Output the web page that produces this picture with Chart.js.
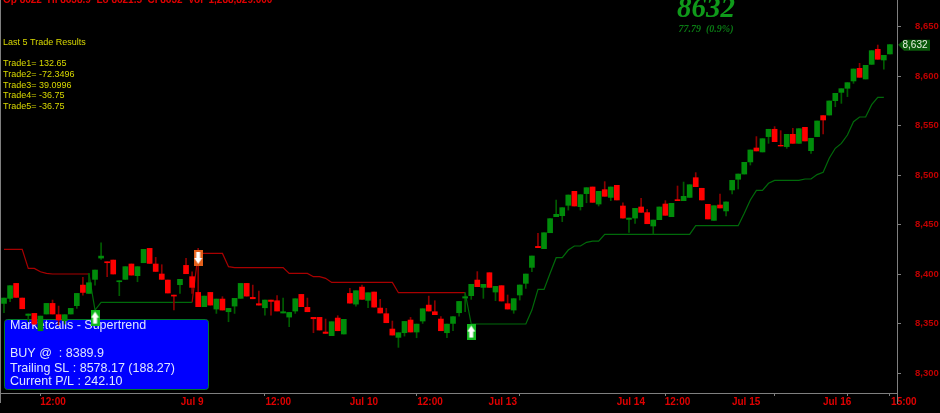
<!DOCTYPE html>
<html lang="en">
<head>
<meta charset="UTF-8">
<title>Marketcalls - Supertrend</title>
<style>
    html, body { margin: 0; padding: 0; background: #000; overflow: hidden; }
    canvas { display: block; }
</style>
</head>
<body>
<canvas id="chart" width="940" height="413"></canvas>

<script src="https://cdn.jsdelivr.net/npm/chart.js"></script>
<script>
    const opens = [
        8370.3,8375.4,8390.5,8375.7,8358.2,8360.2,8342.7,8359.6,8370.3,8358.9,
        8352.8,8359.6,8368.0,8388.8,8380.4,8394.6,8416.1,8412.4,8414.1,8392.2,
        8394.6,8410.1,8398.3,8411.4,8425.9,8410.1,8400.0,8393.9,8378.7,8389.2,
        8408.7,8397.3,8381.4,8367.0,8381.4,8364.6,8374.7,8361.9,8367.6,8375.4,
        8390.5,8376.4,8370.0,8365.9,8373.7,8373.0,8360.6,8356.5,8362.6,8379.4,
        8366.3,8356.2,8356.2,8341.4,8337.7,8355.5,8339.4,8380.4,8369.6,8386.8,
        8373.4,8381.8,8365.6,8359.9,8344.4,8336.0,8340.7,8353.5,8341.4,8352.5,
        8368.6,8361.9,8354.5,8340.7,8350.1,8360.9,8375.7,8378.1,8393.9,8386.5,
        8401.3,8381.8,8388.2,8370.0,8363.6,8378.8,8390.6,8406.7,8427.9,8425.6,
        8441.7,8457.9,8458.9,8469.4,8483.5,8468.0,8481.2,8487.9,8470.7,8485.2,
        8477.4,8489.6,8468.7,8455.2,8456.5,8467.7,8462.0,8448.5,8454.9,8470.7,
        8457.9,8475.1,8474.1,8477.4,8497.3,8486.6,8470.4,8454.2,8469.7,8463.7,
        8484.9,8495.7,8501.0,8513.2,8527.3,8523.3,8538.8,8546.2,8530.0,8528.7,
        8541.1,8532.0,8548.2,8524.6,8538.8,8560.0,8560.6,8575.1,8583.5,8587.6,
        8595.0,8607.8,8597.0,8611.8,8627.0,8616.2,8622.3
    ];
    const closes = [
        8375.7,8388.2,8376.4,8364.9,8359.6,8349.4,8357.5,8370.3,8359.6,8353.5,
        8358.9,8365.3,8380.4,8381.4,8391.2,8404.0,8418.1,8411.4,8400.0,8393.2,
        8407.4,8398.9,8407.4,8424.9,8410.7,8402.6,8394.6,8380.8,8377.7,8394.6,
        8400.3,8386.5,8367.0,8377.7,8368.6,8374.7,8363.6,8365.3,8375.4,8390.5,
        8377.7,8375.0,8368.6,8373.7,8372.3,8362.6,8361.9,8361.2,8375.0,8367.0,
        8361.9,8354.8,8343.4,8340.0,8351.8,8342.7,8354.2,8370.6,8383.1,8374.4,
        8381.1,8366.6,8360.6,8350.8,8338.3,8340.7,8352.1,8341.4,8349.4,8364.9,
        8362.6,8358.9,8342.7,8349.4,8356.9,8372.3,8377.1,8389.6,8387.2,8389.6,
        8386.5,8387.5,8372.7,8364.6,8375.1,8388.9,8400.0,8418.2,8426.6,8441.7,
        8455.9,8460.3,8467.0,8479.8,8468.7,8480.1,8487.2,8472.4,8483.5,8478.5,
        8487.9,8474.8,8456.5,8456.5,8466.3,8462.3,8450.8,8454.5,8467.7,8459.3,
        8471.4,8474.1,8478.5,8490.2,8488.2,8474.8,8455.6,8469.0,8466.7,8472.8,
        8494.6,8501.0,8512.8,8525.3,8524.3,8536.7,8546.2,8533.7,8529.3,8541.1,
        8532.0,8546.8,8534.4,8537.1,8554.6,8555.6,8574.8,8582.5,8587.2,8593.3,
        8607.1,8598.7,8610.8,8625.6,8616.9,8620.9,8631.7
    ];
    const highs = [
        8375.7,8388.2,8390.5,8375.7,8359.6,8360.2,8357.5,8370.3,8373.7,8367.6,
        8358.9,8365.3,8380.4,8396.6,8400.6,8404.0,8431.6,8412.4,8414.1,8393.2,
        8407.4,8410.1,8407.4,8424.9,8425.9,8416.8,8409.4,8393.9,8378.7,8394.6,
        8415.8,8402.3,8425.9,8377.7,8381.4,8374.7,8377.1,8365.3,8375.4,8390.5,
        8390.5,8388.8,8382.8,8373.7,8373.7,8378.1,8375.7,8361.2,8375.0,8379.4,
        8375.7,8356.2,8356.2,8354.5,8351.8,8357.9,8354.2,8385.5,8383.1,8388.8,
        8381.1,8381.8,8374.4,8365.3,8352.5,8340.7,8352.1,8356.2,8349.4,8364.9,
        8377.7,8373.0,8356.9,8349.4,8356.9,8372.3,8381.1,8389.6,8402.4,8389.6,
        8401.3,8387.5,8388.2,8378.8,8375.1,8388.9,8400.0,8418.2,8441.1,8441.7,
        8455.9,8474.7,8467.0,8479.8,8483.5,8480.1,8487.2,8487.9,8483.5,8493.3,
        8487.9,8489.6,8472.0,8456.5,8466.3,8476.4,8465.3,8454.5,8467.7,8474.1,
        8471.4,8488.9,8492.9,8490.2,8502.4,8486.6,8470.4,8469.0,8480.8,8472.8,
        8494.6,8501.0,8512.8,8525.3,8538.8,8536.7,8546.2,8548.9,8544.8,8541.1,
        8547.2,8546.8,8548.2,8537.1,8554.6,8560.0,8574.8,8582.5,8587.2,8593.3,
        8607.1,8612.8,8610.8,8625.6,8631.3,8620.9,8631.7
    ];
    const lows = [
        8360.9,8372.0,8376.4,8364.9,8351.8,8349.4,8342.7,8359.6,8359.6,8348.4,
        8349.4,8359.6,8365.3,8378.7,8380.4,8388.8,8414.8,8397.3,8400.0,8378.1,
        8394.6,8398.9,8392.2,8411.4,8410.7,8402.6,8394.6,8380.8,8363.6,8380.4,
        8400.3,8380.4,8367.0,8367.0,8368.6,8360.2,8363.6,8351.8,8360.2,8375.4,
        8377.7,8375.0,8368.6,8358.5,8358.5,8362.6,8360.6,8346.8,8360.2,8367.0,
        8361.9,8340.7,8343.4,8340.0,8337.7,8342.7,8339.4,8370.6,8367.6,8374.4,
        8365.9,8366.6,8360.6,8350.8,8338.3,8325.9,8337.3,8341.4,8335.6,8350.1,
        8362.6,8358.9,8342.7,8335.6,8342.7,8357.5,8361.9,8374.4,8387.2,8375.4,
        8386.5,8373.1,8372.7,8364.6,8360.3,8373.7,8385.5,8402.4,8426.6,8425.6,
        8441.7,8457.9,8452.9,8464.6,8468.7,8464.6,8472.0,8472.4,8468.7,8478.5,
        8474.1,8474.8,8456.5,8442.1,8451.2,8462.3,8450.8,8440.4,8454.9,8459.3,
        8457.9,8474.1,8474.1,8477.4,8488.2,8474.8,8455.6,8454.2,8466.7,8458.6,
        8480.8,8485.9,8501.0,8510.1,8524.3,8523.3,8532.0,8533.7,8529.3,8527.0,
        8532.0,8532.0,8534.4,8521.9,8538.8,8541.4,8560.6,8569.0,8572.4,8579.2,
        8592.6,8598.7,8597.0,8611.8,8616.9,8606.8,8622.3
    ];

    // supertrend stop, sell side then buy side
    const redStop = [
        8424.9,8424.9,8424.9,8424.9,8405.7,8405.7,8402.3,8400.6,8400,8400,
        8400,8400,8400,8400,8400,null,null,null,null,null,
        null,null,null,null,null,null,null,null,null,null,
        null,8371.3,8420.8,8420.8,8420.8,8420.8,8420.8,8407.4,8406.4,8406.4,
        8406.4,8406.4,8406.4,8406.4,8406.4,8406.4,8406.4,8400.6,8400.6,8400.6,
        8400.6,8397.3,8397.3,8395.6,8391.5,8391.5,8391.5,8391.5,8391.5,8391.5,
        8391.5,8391.5,8391.5,8391.5,8391.5,8381.1,8381.1,8381.1,8381.1,8381.1,
        8381.1,8381.1,8381.1,8381.1,8381.1,8381.1,8381.1,null,null,null,
        null,null,null,null,null,null,null,null,null,null,
        null,null,null,null,null,null,null,null,null,null,
        null,null,null,null,null,null,null,null,null,null,
        null,null,null,null,null,null,null,null,null,null,
        null,null,null,null,null,null,null,null,null,null,
        null,null,null,null,null,null,null,null,null,null,
        null,null,null,null,null,null,null
    ];
    const greenStop = [
        null,null,null,null,null,null,null,null,null,null,
        null,null,null,null,8400,8363.6,8371.3,8371.3,8371.3,8371.3,
        8371.3,8371.3,8371.3,8371.3,8371.3,8371.3,8371.3,8371.3,8371.3,8371.3,
        8371.3,8371.3,null,null,null,null,null,null,null,null,
        null,null,null,null,null,null,null,null,null,null,
        null,null,null,null,null,null,null,null,null,null,
        null,null,null,null,null,null,null,null,null,null,
        null,null,null,null,null,null,8381.1,8349.5,8349.5,8349.5,
        8349.5,8349.5,8349.5,8349.5,8349.5,8349.5,8349.5,8363.6,8384.5,8384.5,
        8400.7,8416.5,8416.5,8424.2,8428.3,8428.3,8432,8433.3,8433.3,8440.1,
        8440.1,8440.1,8440.1,8440.1,8440.1,8440.1,8440.1,8440.1,8440.1,8440.1,
        8440.1,8440.1,8440.1,8440.1,8448.8,8448.8,8448.8,8448.8,8448.8,8448.8,
        8448.8,8448.8,8461.3,8474.8,8484.5,8484.5,8491.6,8494.6,8494.6,8494.6,
        8494.6,8494.6,8496,8496,8500.4,8502.7,8516.9,8527,8532,8540.4,
        8553.9,8558.6,8558.6,8571.1,8578.5,8578.5,null
    ];

    const buyIndex = [15, 77];
    const buyPrice = [8356, 8341.9];
    const sellIndex = [32];
    const sellPrice = [8416.2];

    const yTickValues = [8300, 8350, 8400, 8450, 8500, 8550, 8600, 8650];
    const xTickPositions = [6, 8.07, 31, 43, 45.2, 59.3, 68, 70.2, 82.2, 85, 103.3, 109, 111, 122.3, 127, 137.3, 139, 146, 148.3];
    const xTickLabels = ['', '12:00', 'Jul 9', '', '12:00', 'Jul 10', '', '12:00', 'Jul 13', '', 'Jul 14', '', '12:00', 'Jul 15', '', 'Jul 16', '', '', '15:00'];
    const xMarks = [6, 43, 68, 85, 109, 127, 139, 146];

    const headerText = 'Op 8622  Hi 8638.9  Lo 8621.5  Cl 8632  Vol  1,288,829.000';
    const tradeLines = ['Trade1= 132.65', 'Trade2= -72.3496', 'Trade3= 39.0996', 'Trade4= -36.75', 'Trade5= -36.75'];
    const lastPrice = '8,632';

    const GREEN = '#008c0a', GREEN_DARK = '#005c00', RED = '#ff0000', RED_DARK = '#8c0000', GRAY = '#7f7f7f';
    const SANS = '"Liberation Sans", Arial, sans-serif';

    // buy/sell flag, used as the point image
    function arrowFlag(fill, up) {
        const c = document.createElement('canvas');
        c.width = 9; c.height = 16;
        const g = c.getContext('2d');
        g.fillStyle = fill;
        g.fillRect(0, 0, 9, 16);
        g.fillStyle = '#fff';
        g.beginPath();
        if (up) {
            g.moveTo(4.5, 2); g.lineTo(8.5, 8); g.lineTo(6.5, 8); g.lineTo(6.5, 14); g.lineTo(2.5, 14); g.lineTo(2.5, 8); g.lineTo(0.5, 8);
        } else {
            g.moveTo(4.5, 14); g.lineTo(8.5, 8); g.lineTo(6.5, 8); g.lineTo(6.5, 2); g.lineTo(2.5, 2); g.lineTo(2.5, 8); g.lineTo(0.5, 8);
        }
        g.closePath();
        g.fill();
        return c;
    }

    const isUp = i => closes[i] >= opens[i];
    const bodyColors = opens.map((_, i) => isUp(i) ? GREEN : RED);
    const wickColors = opens.map((_, i) => isUp(i) ? GREEN_DARK : RED_DARK);

    // no extra padding from the tick labels, chart area runs to the edges
    function noPadding(scale) {
        scale.paddingLeft = scale.paddingRight = scale.paddingTop = scale.paddingBottom = 0;
    }

    // info box sits under the candles, other text goes on top
    const boxPlugin = {
        id: 'infoBox',
        beforeDatasetsDraw(chart) {
            const ctx = chart.ctx;
            ctx.save();
            ctx.fillStyle = '#0000ff';
            ctx.strokeStyle = '#007a2a';
            ctx.lineWidth = 1;
            ctx.beginPath();
            ctx.roundRect(4.5, 319.5, 204, 70, 3);
            ctx.fill();
            ctx.stroke();
            ctx.fillStyle = '#dfe6ff';
            ctx.font = '12.5px ' + SANS;
            ctx.textBaseline = 'middle';
            ctx.fillText('Marketcalls - Supertrend', 10, 325.5);
            ctx.fillText('BUY @  : 8389.9', 10, 354);
            ctx.fillText('Trailing SL : 8578.17 (188.27)', 10, 368.5);
            ctx.fillText('Current P/L : 242.10', 10, 382);
            ctx.restore();
        }
    };

    const textPlugin = {
        id: 'overlayText',
        afterDraw(chart) {
            const ctx = chart.ctx;
            ctx.save();
            // frame lines
            ctx.strokeStyle = GRAY;
            ctx.lineWidth = 1;
            ctx.beginPath();
            ctx.moveTo(0.5, 0); ctx.lineTo(0.5, 403);
            ctx.moveTo(897.5, 0); ctx.lineTo(897.5, 404);
            ctx.stroke();

            ctx.textBaseline = 'alphabetic';
            ctx.fillStyle = '#e00000';
            ctx.font = 'bold 10px ' + SANS;
            ctx.fillText(headerText, 3, 3);

            ctx.fillStyle = '#d8d800';
            ctx.font = '9px ' + SANS;
            ctx.fillText('Last 5 Trade Results', 3, 45);
            tradeLines.forEach((line, i) => ctx.fillText(line, 3, 66 + i * 10.8));

            ctx.fillStyle = '#0f9a1a';
            ctx.textAlign = 'center';
            ctx.font = 'italic bold 29px "Liberation Serif", serif';
            ctx.fillText('8632', 706, 17);
            ctx.fillStyle = '#0a7a14';
            ctx.font = 'italic bold 10px "Liberation Serif", serif';
            ctx.fillText('77.79  (0.9%)', 706, 32);

            // last price tag on the axis
            const y = chart.scales.y.getPixelForValue(closes[closes.length - 1]);
            ctx.fillStyle = '#0a5a0a';
            ctx.beginPath();
            ctx.moveTo(898, y);
            ctx.lineTo(904, y - 5);
            ctx.lineTo(930, y - 5);
            ctx.lineTo(930, y + 6);
            ctx.lineTo(904, y + 6);
            ctx.closePath();
            ctx.fill();
            ctx.fillStyle = '#e8f0e0';
            ctx.font = '10px ' + SANS;
            ctx.textBaseline = 'middle';
            ctx.fillText(lastPrice, 915, y + 0.5);
            ctx.restore();
        }
    };

    const toPoints = arr => arr.map((v, i) => ({ x: i, y: v }));

    new Chart(document.getElementById('chart').getContext('2d'), {
        type: 'bar',
        data: {
            datasets: [
                {
                    label: 'Buy',
                    type: 'line',
                    showLine: false,
                    order: 1,
                    data: buyIndex.map((x, i) => ({ x: x, y: buyPrice[i] })),
                    pointStyle: arrowFlag('#12b81e', true),
                    pointRadius: 0.2,
                    pointBorderWidth: 0,
                    clip: false
                },
                {
                    label: 'Sell',
                    type: 'line',
                    showLine: false,
                    order: 1,
                    data: sellIndex.map((x, i) => ({ x: x, y: sellPrice[i] })),
                    pointStyle: arrowFlag('#e4601a', false),
                    pointRadius: 0.2,
                    pointBorderWidth: 0,
                    clip: false
                },
                {
                    label: 'Body',
                    order: 2,
                    data: opens.map((o, i) => ({ x: i, y: [o, closes[i]] })),
                    backgroundColor: bodyColors,
                    barThickness: 5,
                    grouped: false
                },
                {
                    label: 'Wick',
                    order: 3,
                    data: lows.map((l, i) => ({ x: i, y: [l, highs[i]] })),
                    backgroundColor: wickColors,
                    barThickness: 1,
                    grouped: false
                },
                {
                    label: 'Supertrend up',
                    type: 'line',
                    order: 4,
                    data: toPoints(greenStop),
                    borderColor: '#006a0a',
                    borderWidth: 1.2,
                    pointRadius: 0,
                    tension: 0
                },
                {
                    label: 'Supertrend down',
                    type: 'line',
                    order: 4,
                    data: toPoints(redStop),
                    borderColor: '#a80000',
                    borderWidth: 1.2,
                    pointRadius: 0,
                    tension: 0
                }
            ]
        },
        options: {
            responsive: false,
            animation: false,
            layout: { padding: 0, autoPadding: false },
            plugins: { legend: { display: false }, tooltip: { enabled: false } },
            scales: {
                x: {
                    type: 'linear',
                    offset: false,
                    min: -0.66,
                    max: 147.17,
                    grid: {
                        offset: false,
                        drawOnChartArea: false,
                        tickLength: 3,
                        tickColor: ctx => xMarks.includes(ctx.tick && ctx.tick.value) ? GRAY : 'transparent'
                    },
                    border: { color: GRAY },
                    afterBuildTicks: scale => { scale.ticks = xTickPositions.map(v => ({ value: v })); },
                    afterFit: scale => { scale.height = 20; noPadding(scale); },
                    ticks: {
                        autoSkip: false,
                        maxRotation: 0,
                        padding: 0,
                        color: '#e00000',
                        font: { family: SANS, size: 10, weight: 'bold' },
                        callback: (value, i) => xTickLabels[i]
                    }
                },
                y: {
                    position: 'right',
                    min: 8279.8,
                    max: 8676.8,
                    grid: { drawOnChartArea: false, tickLength: 4, tickColor: GRAY },
                    border: { color: GRAY },
                    afterBuildTicks: scale => { scale.ticks = yTickValues.map(v => ({ value: v })); },
                    afterFit: scale => { scale.width = 43; noPadding(scale); },
                    ticks: {
                        padding: 14,
                        color: '#c00000',
                        font: { family: SANS, size: 9.5, weight: 'bold' },
                        callback: value => value.toLocaleString('en-US')
                    }
                }
            }
        },
        plugins: [boxPlugin, textPlugin]
    });
</script>
</body>
</html>
